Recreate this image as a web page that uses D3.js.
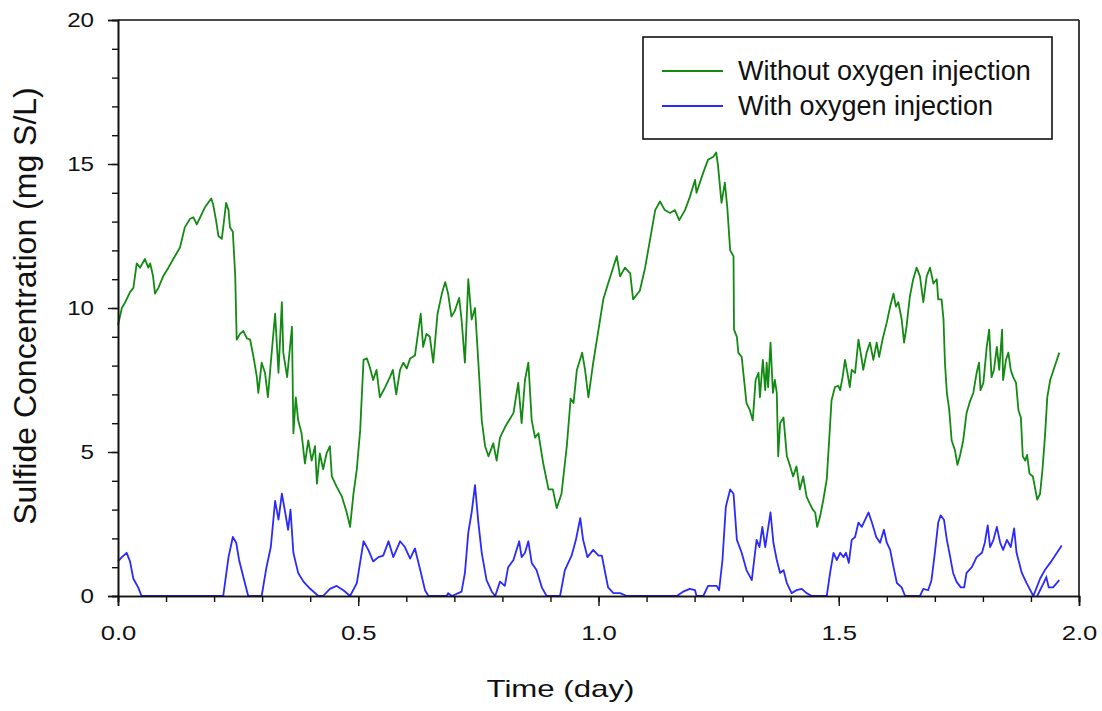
<!DOCTYPE html>
<html>
<head>
<meta charset="utf-8">
<script src="https://cdn.jsdelivr.net/npm/d3@7"></script>
<style>
	body { margin: 0; background: #fff; }
	svg { display: block; }
	text { font-family: "Liberation Sans", Arial, sans-serif; fill: #111; }
</style>
</head>
<body>
<script>

//	series (time in days, sulfide in mg S/L)
var greenTime = [0.000, 0.008, 0.015, 0.025, 0.032, 0.039, 0.046, 0.056, 0.063, 0.067, 0.073, 0.077, 0.084, 0.094, 0.105, 0.115, 0.129, 0.139, 0.150, 0.157, 0.164, 0.171, 0.181, 0.194, 0.198, 0.204, 0.209, 0.216, 0.219, 0.225, 0.230, 0.233, 0.239, 0.244, 0.247, 0.254, 0.261, 0.268, 0.275, 0.282, 0.289, 0.292, 0.299, 0.306, 0.312, 0.318, 0.327, 0.334, 0.341, 0.344, 0.352, 0.362, 0.365, 0.370, 0.375, 0.382, 0.389, 0.396, 0.403, 0.410, 0.414, 0.420, 0.427, 0.434, 0.441, 0.445, 0.455, 0.466, 0.476, 0.483, 0.490, 0.497, 0.504, 0.511, 0.518, 0.524, 0.531, 0.538, 0.545, 0.556, 0.566, 0.572, 0.579, 0.587, 0.594, 0.601, 0.608, 0.618, 0.625, 0.630, 0.635, 0.642, 0.649, 0.656, 0.665, 0.674, 0.681, 0.687, 0.694, 0.701, 0.710, 0.715, 0.722, 0.729, 0.736, 0.743, 0.750, 0.757, 0.764, 0.771, 0.781, 0.788, 0.795, 0.805, 0.812, 0.823, 0.833, 0.840, 0.847, 0.854, 0.861, 0.868, 0.875, 0.885, 0.896, 0.905, 0.913, 0.923, 0.934, 0.942, 0.948, 0.955, 0.966, 0.972, 0.979, 0.989, 1.000, 1.010, 1.020, 1.038, 1.045, 1.055, 1.066, 1.072, 1.086, 1.097, 1.107, 1.118, 1.128, 1.138, 1.149, 1.159, 1.168, 1.180, 1.190, 1.201, 1.204, 1.218, 1.228, 1.239, 1.245, 1.249, 1.256, 1.263, 1.268, 1.274, 1.281, 1.282, 1.288, 1.291, 1.298, 1.303, 1.308, 1.315, 1.321, 1.327, 1.333, 1.336, 1.342, 1.347, 1.350, 1.353, 1.358, 1.363, 1.367, 1.371, 1.374, 1.378, 1.385, 1.392, 1.399, 1.405, 1.412, 1.419, 1.426, 1.433, 1.440, 1.446, 1.451, 1.455, 1.461, 1.468, 1.475, 1.480, 1.485, 1.492, 1.499, 1.503, 1.508, 1.513, 1.518, 1.523, 1.527, 1.534, 1.541, 1.548, 1.551, 1.558, 1.565, 1.572, 1.579, 1.584, 1.591, 1.600, 1.607, 1.614, 1.619, 1.624, 1.631, 1.636, 1.641, 1.648, 1.655, 1.662, 1.669, 1.676, 1.683, 1.690, 1.697, 1.704, 1.707, 1.714, 1.718, 1.721, 1.725, 1.730, 1.735, 1.742, 1.747, 1.752, 1.759, 1.766, 1.773, 1.780, 1.787, 1.792, 1.795, 1.801, 1.808, 1.813, 1.818, 1.823, 1.829, 1.834, 1.840, 1.842, 1.848, 1.853, 1.858, 1.863, 1.869, 1.874, 1.879, 1.883, 1.888, 1.892, 1.897, 1.904, 1.908, 1.913, 1.919, 1.924, 1.929, 1.934, 1.940, 1.947, 1.954, 1.959];
var greenConc = [9.4, 10.0, 10.2, 10.55, 10.7, 11.55, 11.4, 11.7, 11.4, 11.55, 11.1, 10.5, 10.7, 11.1, 11.4, 11.7, 12.1, 12.8, 13.1, 13.15, 12.9, 13.15, 13.5, 13.8, 13.6, 13.05, 12.5, 12.4, 12.8, 13.65, 13.4, 12.8, 12.65, 11.1, 8.9, 9.1, 9.2, 8.95, 8.9, 8.3, 7.6, 7.05, 8.1, 7.75, 6.9, 8.1, 9.8, 7.75, 10.2, 8.45, 7.6, 9.35, 5.65, 6.9, 6.1, 5.65, 4.6, 5.4, 4.7, 5.2, 3.9, 4.95, 4.4, 4.95, 5.2, 4.15, 3.8, 3.45, 2.9, 2.4, 3.55, 4.4, 5.75, 8.2, 8.25, 7.95, 7.5, 7.85, 6.9, 7.25, 7.6, 7.85, 7.0, 7.85, 8.1, 7.9, 8.25, 8.35, 9.2, 9.8, 8.65, 9.1, 9.0, 8.1, 9.8, 10.5, 10.9, 10.5, 9.7, 9.9, 10.35, 9.6, 8.1, 11.0, 9.6, 10.0, 8.1, 6.1, 5.2, 4.85, 5.3, 4.7, 5.5, 5.85, 6.05, 6.35, 7.4, 6.0, 7.5, 8.1, 6.1, 5.5, 5.65, 4.6, 3.7, 3.7, 3.05, 3.55, 5.2, 6.85, 6.7, 7.85, 8.45, 7.85, 6.9, 8.1, 9.25, 10.3, 10.85, 11.8, 11.1, 11.4, 11.2, 10.3, 10.6, 11.4, 12.35, 13.4, 13.7, 13.4, 13.3, 13.4, 13.05, 13.4, 13.85, 14.45, 14.0, 14.7, 15.15, 15.25, 15.4, 14.9, 13.65, 14.35, 13.5, 12.0, 11.8, 9.25, 9.0, 8.45, 8.3, 7.5, 6.7, 6.45, 6.1, 7.5, 7.75, 6.9, 8.2, 7.15, 8.1, 7.25, 8.8, 7.05, 7.5, 7.05, 4.85, 6.0, 6.2, 4.85, 4.5, 4.15, 4.5, 3.7, 4.15, 3.45, 3.2, 3.0, 2.9, 2.4, 2.75, 3.35, 4.05, 5.4, 6.8, 7.25, 7.3, 7.15, 7.6, 8.2, 7.75, 7.25, 7.85, 7.75, 8.9, 8.2, 7.85, 8.45, 8.8, 8.2, 8.8, 8.3, 8.9, 9.5, 10.05, 10.5, 10.05, 10.2, 9.6, 8.8, 9.35, 10.4, 11.0, 11.4, 11.1, 10.2, 11.1, 11.4, 10.85, 11.0, 10.3, 10.3, 9.6, 8.1, 7.05, 6.45, 5.4, 5.05, 4.55, 4.85, 5.4, 6.35, 6.75, 7.05, 7.75, 8.1, 7.15, 7.4, 8.65, 9.25, 7.6, 7.85, 8.65, 7.85, 9.25, 7.5, 8.2, 8.45, 7.85, 7.6, 7.4, 6.45, 6.2, 4.85, 4.7, 4.9, 4.25, 4.15, 3.8, 3.35, 3.55, 4.4, 5.5, 6.9, 7.5, 7.85, 8.2, 8.45];

var blueTime = [0.000, 0.008, 0.018, 0.025, 0.032, 0.042, 0.049, 0.219, 0.230, 0.239, 0.246, 0.252, 0.261, 0.271, 0.299, 0.309, 0.318, 0.327, 0.334, 0.341, 0.348, 0.354, 0.359, 0.365, 0.370, 0.375, 0.386, 0.400, 0.417, 0.427, 0.441, 0.455, 0.469, 0.483, 0.497, 0.511, 0.521, 0.531, 0.542, 0.552, 0.563, 0.573, 0.587, 0.597, 0.608, 0.618, 0.629, 0.639, 0.646, 0.684, 0.687, 0.695, 0.715, 0.722, 0.729, 0.736, 0.743, 0.750, 0.757, 0.767, 0.778, 0.785, 0.795, 0.805, 0.812, 0.823, 0.835, 0.840, 0.847, 0.854, 0.861, 0.871, 0.882, 0.892, 0.920, 0.930, 0.944, 0.953, 0.962, 0.968, 0.977, 0.989, 1.000, 1.007, 1.014, 1.020, 1.031, 1.045, 1.059, 1.163, 1.176, 1.190, 1.201, 1.204, 1.218, 1.228, 1.246, 1.251, 1.258, 1.265, 1.274, 1.281, 1.288, 1.298, 1.308, 1.319, 1.324, 1.329, 1.335, 1.341, 1.347, 1.352, 1.358, 1.364, 1.371, 1.378, 1.385, 1.392, 1.402, 1.412, 1.423, 1.433, 1.444, 1.475, 1.482, 1.489, 1.496, 1.503, 1.510, 1.515, 1.521, 1.527, 1.534, 1.541, 1.548, 1.555, 1.562, 1.569, 1.578, 1.586, 1.594, 1.600, 1.607, 1.614, 1.621, 1.631, 1.638, 1.669, 1.676, 1.686, 1.693, 1.700, 1.707, 1.712, 1.719, 1.725, 1.732, 1.738, 1.745, 1.754, 1.761, 1.766, 1.777, 1.787, 1.798, 1.804, 1.810, 1.815, 1.822, 1.829, 1.836, 1.842, 1.850, 1.858, 1.865, 1.870, 1.881, 1.891, 1.905, 1.919, 1.929, 1.940, 1.950, 1.964];
var blueConc = [1.2, 1.35, 1.5, 1.2, 0.6, 0.3, 0, 0, 1.35, 2.05, 1.85, 1.25, 0.65, 0, 0, 1.0, 1.7, 3.3, 2.65, 3.55, 2.9, 2.3, 3.0, 1.5, 1.15, 0.8, 0.5, 0.25, 0, 0, 0.25, 0.35, 0.2, 0, 0.45, 1.9, 1.6, 1.2, 1.35, 1.4, 1.9, 1.35, 1.9, 1.7, 1.3, 1.65, 0.9, 0.2, 0, 0, 0.1, 0, 0.15, 0.8, 2.2, 2.9, 3.85, 2.55, 1.5, 0.55, 0.15, 0, 0.5, 0.35, 1.0, 1.25, 1.9, 1.35, 1.5, 1.9, 1.15, 0.9, 0.3, 0, 0, 0.9, 1.4, 1.95, 2.7, 1.95, 1.35, 1.6, 1.4, 1.4, 0.8, 0.3, 0.1, 0.1, 0, 0, 0.15, 0.25, 0.2, 0, 0, 0.35, 0.35, 0.2, 1.25, 3.1, 3.7, 3.55, 1.95, 1.5, 0.9, 0.55, 1.25, 1.95, 1.7, 2.4, 1.7, 2.25, 2.9, 1.85, 1.25, 0.8, 0.9, 0.45, 0.1, 0.2, 0.25, 0.1, 0, 0, 0.8, 1.5, 1.25, 1.5, 1.35, 1.5, 1.15, 1.95, 2.05, 2.55, 2.4, 2.65, 2.9, 2.55, 2.05, 1.85, 2.3, 1.85, 1.6, 1.0, 0.45, 0.3, 0, 0, 0.25, 0.2, 0.55, 1.5, 2.55, 2.8, 2.65, 1.95, 1.35, 0.8, 0.5, 0.3, 0.3, 0.8, 1.0, 1.35, 1.5, 1.85, 2.45, 1.7, 1.95, 2.4, 1.85, 1.6, 1.95, 1.7, 2.35, 1.5, 0.8, 0.45, 0, 0.6, 0.9, 1.15, 1.4, 1.75];
//	short second trace at the very end of the blue record
var blueTailTime = [1.913, 1.925, 1.932, 1.937, 1.946, 1.959];
var blueTailConc = [0, 0.4, 0.65, 0.3, 0.3, 0.55];

var seriesNames = ["Without oxygen injection", "With oxygen injection"];
var seriesColors = ["#138a13", "#2a2aff"];
var xMajorTicks = [0, 0.5, 1.0, 1.5, 2.0];
var yMajorTicks = [0, 5, 10, 15, 20];

function zip(t, v) {
	var out = [];
	for (var i = 0; i < t.length; i++) out.push({t: t[i], v: v[i]});
	return out;
}

//	stretch a text horizontally, the picture has wider glyphs than the font
function stretch(sel, factor) {
	sel.each(function() {
		var w = this.getComputedTextLength();
		d3.select(this).attr("textLength", w * factor).attr("lengthAdjust", "spacingAndGlyphs");
	});
}

function main() {
	var margin = {top: 20, right: 23, bottom: 115, left: 118},
	width = 1102 - margin.left - margin.right,
	height = 711 - margin.top - margin.bottom;

	var svg = d3.select("body")
	.append("svg")
	  .attr("width", width + margin.left + margin.right)
	  .attr("height", height + margin.top + margin.bottom)
	.append("g")
	  .attr("transform", "translate(" + margin.left + "," + margin.top + ")");

	var x = d3.scaleLinear().domain([0, 2]).range([0, width]);
	var y = d3.scaleLinear().domain([0, 20]).range([height, 0]);

	var line = d3.line()
		.x(function(d) { return x(d.t); })
		.y(function(d) { return y(d.v); });

	//	data lines
	svg.append("path")
		.datum(zip(greenTime, greenConc))
		.attr("d", line)
		.attr("fill", "none")
		.attr("stroke", seriesColors[0])
		.attr("stroke-width", 1.8)
		.attr("stroke-linejoin", "round");

	svg.append("path")
		.datum(zip(blueTime, blueConc))
		.attr("d", line)
		.attr("fill", "none")
		.attr("stroke", seriesColors[1])
		.attr("stroke-width", 1.8)
		.attr("stroke-linejoin", "round");

	svg.append("path")
		.datum(zip(blueTailTime, blueTailConc))
		.attr("d", line)
		.attr("fill", "none")
		.attr("stroke", seriesColors[1])
		.attr("stroke-width", 1.8);

	//	axes, minor ticks first then major with labels
	var axisColor = "#111";

	var xMinor = svg.append("g")
		.attr("transform", "translate(0," + height + ")")
		.call(d3.axisBottom(x).tickValues(d3.range(0, 2.01, 0.1)).tickSize(6).tickFormat(""));
	var xMajor = svg.append("g")
		.attr("transform", "translate(0," + height + ")")
		.call(d3.axisBottom(x).tickValues(xMajorTicks).tickSize(10).tickPadding(28).tickFormat(d3.format(".1f")));

	var yMinor = svg.append("g")
		.call(d3.axisLeft(y).tickValues(d3.range(0, 21, 1)).tickSize(6).tickFormat(""));
	var yMajor = svg.append("g")
		.call(d3.axisLeft(y).tickValues(yMajorTicks).tickSize(10).tickPadding(14).tickFormat(d3.format("d")));

	[xMinor, xMajor, yMinor, yMajor].forEach(function(g) {
		g.select(".domain").attr("stroke", axisColor).attr("stroke-width", 1.6);
		g.selectAll(".tick line").attr("stroke", axisColor).attr("stroke-width", 1.4);
		g.selectAll(".tick text")
			.attr("fill", "#111")
			.style("font-family", "'Liberation Sans', Arial, sans-serif")
			.style("font-size", "21px");
	});
	xMajor.selectAll(".tick text").attr("dy", "0.3em");
	stretch(xMajor.selectAll(".tick text"), 1.22);
	stretch(yMajor.selectAll(".tick text"), 1.15);

	//	frame (top and right)
	svg.append("line")
		.attr("x1", 0).attr("x2", width)
		.attr("y1", 0).attr("y2", 0)
		.attr("stroke", axisColor).attr("stroke-width", 1.6);
	svg.append("line")
		.attr("x1", width).attr("x2", width)
		.attr("y1", 0).attr("y2", height)
		.attr("stroke", axisColor).attr("stroke-width", 1.6);

	//	titles
	var xt = svg.append("text")
		.attr("x", width / 2 - 38)
		.attr("y", height + 101)
		.attr("text-anchor", "middle")
		.style("font-size", "24px")
		.text("Time (day)");
	stretch(xt, 1.3);

	svg.append("text")
		.attr("transform", "translate(" + (36 - margin.left) + "," + (306 - margin.top) + ") rotate(-90)")
		.attr("text-anchor", "middle")
		.style("font-size", "32px")
		.text("Sulfide Concentration (mg S/L)");

	//	legend
	var legend = svg.append("g")
		.attr("transform", "translate(" + (643 - margin.left) + "," + (37 - margin.top) + ")");

	legend.append("rect")
		.attr("width", 409)
		.attr("height", 102)
		.attr("fill", "#fff")
		.attr("stroke", axisColor)
		.attr("stroke-width", 1.6);

	var items = legend.selectAll(".item")
		.data(seriesNames)
		.enter().append("g")
		.attr("class", "item")
		.attr("transform", function(d, i) { return "translate(0," + (34 + i * 35) + ")"; });

	items.append("line")
		.attr("x1", 19).attr("x2", 80)
		.attr("stroke", function(d, i) { return seriesColors[i]; })
		.attr("stroke-width", 2);

	items.append("text")
		.attr("x", 95)
		.attr("y", 9)
		.style("font-size", "27px")
		.text(function(d) { return d; });
}

main();
</script>
</body>
</html>
